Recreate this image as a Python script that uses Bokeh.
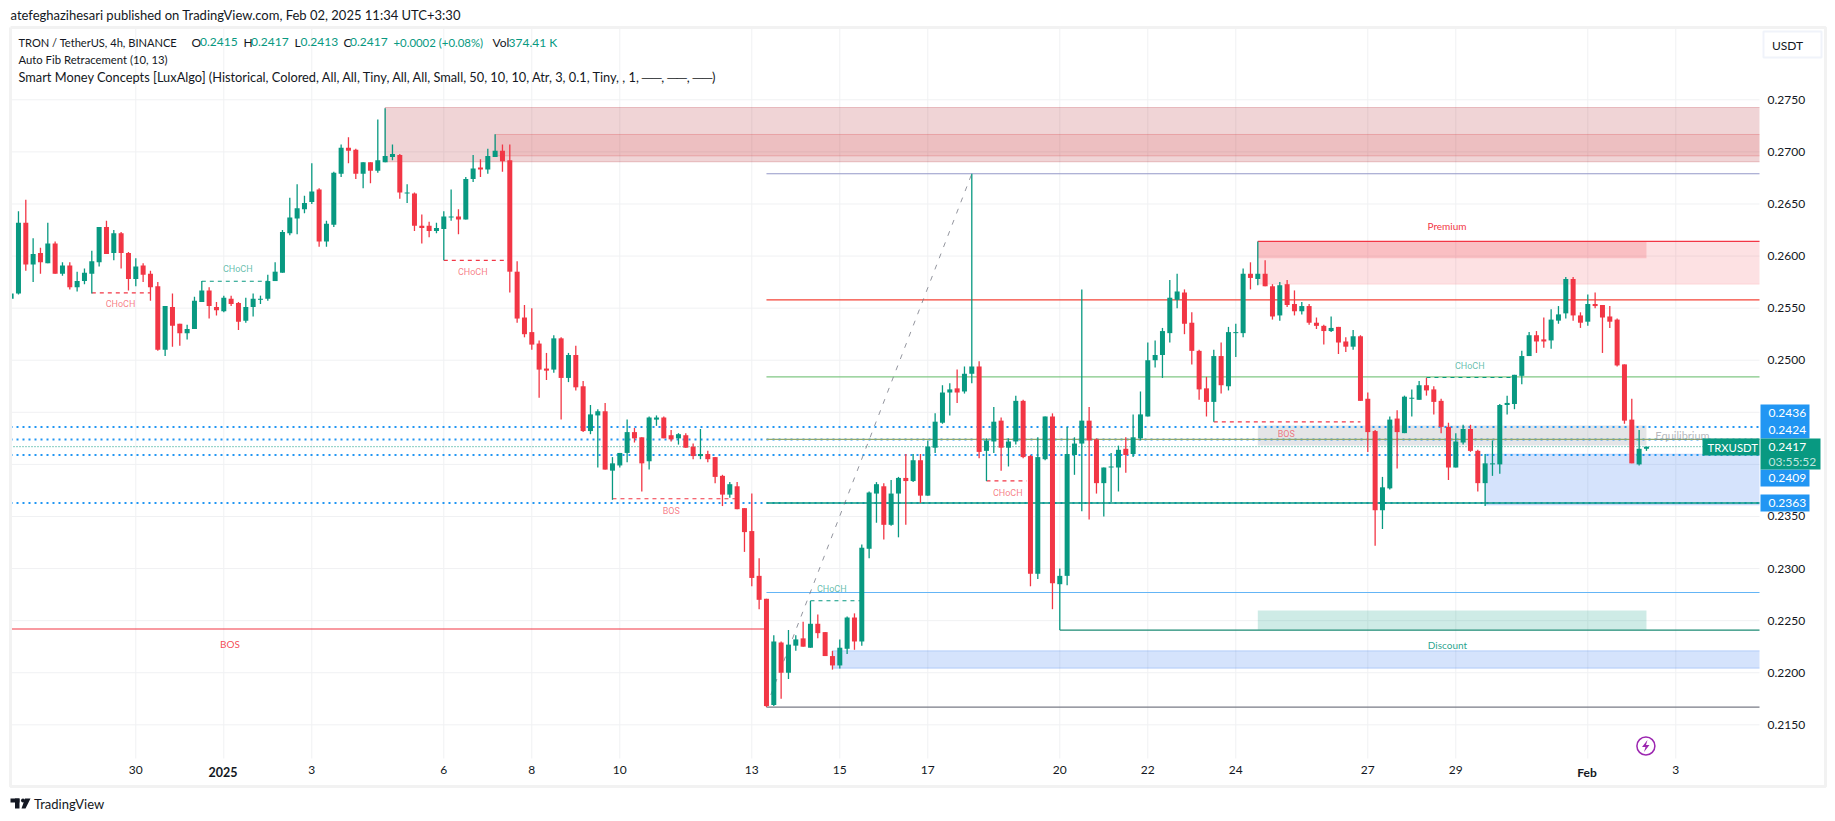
from bokeh.plotting import figure
from bokeh.models import Range1d, FixedTicker, ColumnDataSource
from bokeh.core.properties import value
from bokeh.embed import file_html
from bokeh.resources import INLINE

TICK = 0.0001
FONT = "Lato"
DARK = "#131722"
GREEN = "#089981"
RED = "#f23645"
BLUE = "#2196f3"

first_bar = -29
directions = ("GGRGRGRGRG" "GGGRGRRGRR" "RGRRGGGRR"
              "GRRGGGGGGG" "GGGRGGGRRG" "RGGGRGRRRG" "GGRGGRGGRR"
              "RRRRRGRGRR" "GGRGGGRRGG" "RRGRRGRRRG" "RRRRRGRGGR"
              "GRRRGGRGGG" "RGGRGRGGGG" "RGGRGGRGGR" "RGGRGGGGRR"
              "GGGRGGGGGG" "GRRRRGRGGG" "RGRRGRRGRR" "RGRRGRRRGG"
              "RGGGRRRRGG" "RRGGGGGGGR" "RGGGRRGRRR" "RRRGG")
highs = [2601,2643,2654,2617,2608,2632,2614,2594,2594,2585,
 2588,2605,2628,2634,2625,2623,2604,2598,2593,2586,
 2575,2552,2564,2535,2534,2561,2576,2570,2556,
 2562,2562,2556,2560,2564,2562,2582,2594,2625,2656,
 2669,2658,2689,2665,2634,2681,2707,2714,2703,2690,
 2690,2731,2742,2707,2698,2669,2661,2640,2633,2632,
 2643,2664,2645,2676,2697,2693,2703,2717,2707,2707,
 2595,2553,2550,2519,2507,2524,2522,2507,2514,2480,
 2457,2453,2459,2407,2411,2443,2435,2426,2446,2447,
 2446,2433,2430,2430,2420,2434,2413,2407,2390,2383,
 2383,2358,2372,2310,2271,2236,2230,2241,2236,2249,
 2269,2256,2239,2221,2232,2254,2257,2323,2374,2383,
 2382,2385,2388,2410,2410,2410,2423,2449,2476,2478,
 2491,2494,2679,2499,2425,2455,2445,2425,2466,2462,
 2409,2426,2446,2449,2300,2436,2426,2568,2455,2425,
 2397,2411,2418,2426,2448,2470,2517,2519,2531,2577,
 2583,2568,2546,2510,2484,2510,2517,2532,2535,2588,
 2594,2614,2596,2573,2575,2577,2567,2556,2554,2541,
 2534,2542,2532,2522,2529,2524,2469,2433,2388,2446,
 2452,2466,2472,2480,2483,2475,2463,2440,2430,2438,
 2438,2414,2410,2423,2458,2466,2486,2509,2527,2528,
 2541,2549,2552,2580,2580,2546,2563,2565,2553,2552,
 2540,2496,2463,2433,2417]
body_tops = [2564,2632,2632,2602,2603,2612,2612,2591,2591,2576,
 2584,2595,2628,2628,2622,2622,2603,2590,2591,2583,
 2571,2552,2551,2535,2530,2557,2567,2567,2551,
 2560,2559,2555,2551,2559,2559,2576,2585,2623,2637,
 2646,2651,2662,2664,2631,2680,2704,2704,2702,2690,
 2690,2692,2696,2698,2697,2661,2660,2629,2629,2627,
 2638,2638,2638,2674,2684,2685,2696,2701,2701,2692,
 2585,2541,2527,2516,2492,2521,2521,2505,2505,2475,
 2448,2451,2451,2401,2411,2431,2431,2426,2445,2445,
 2445,2428,2429,2428,2417,2410,2410,2407,2389,2381,
 2379,2358,2336,2293,2271,2230,2229,2227,2232,2233,
 2247,2247,2239,2216,2224,2253,2253,2320,2373,2381,
 2379,2372,2387,2387,2404,2404,2417,2441,2469,2472,
 2473,2487,2494,2494,2423,2441,2442,2422,2461,2461,
 2408,2407,2446,2446,2293,2410,2420,2442,2442,2424,
 2397,2398,2414,2415,2426,2448,2500,2505,2528,2560,
 2566,2565,2536,2509,2473,2504,2504,2527,2527,2583,
 2583,2583,2583,2571,2572,2573,2554,2552,2552,2536,
 2533,2531,2532,2518,2523,2523,2463,2432,2378,2443,
 2444,2465,2464,2476,2476,2472,2461,2436,2422,2434,
 2434,2413,2401,2401,2457,2459,2486,2504,2524,2524,
 2520,2539,2544,2578,2578,2543,2554,2554,2553,2542,
 2539,2496,2443,2415,2417]
body_bottoms = [2559,2564,2592,2592,2594,2593,2583,2583,2570,2570,
 2576,2583,2594,2602,2603,2603,2578,2578,2582,2570,
 2510,2510,2533,2526,2526,2530,2556,2552,2548,
 2547,2554,2537,2538,2551,2558,2559,2576,2584,2622,
 2636,2645,2652,2614,2614,2630,2679,2701,2679,2679,
 2682,2682,2690,2695,2661,2660,2629,2627,2624,2624,
 2626,2637,2635,2635,2674,2683,2683,2695,2691,2585,
 2540,2525,2515,2491,2490,2491,2483,2483,2474,2432,
 2432,2447,2395,2394,2399,2411,2425,2401,2403,2443,
 2425,2424,2425,2416,2408,2408,2405,2388,2371,2371,
 2357,2335,2291,2270,2168,2169,2200,2200,2226,2225,
 2224,2238,2216,2207,2207,2223,2230,2230,2319,2372,
 2342,2342,2372,2384,2384,2370,2370,2416,2440,2469,
 2469,2470,2487,2412,2413,2422,2416,2416,2422,2407,
 2295,2295,2405,2286,2285,2293,2409,2420,2423,2382,
 2382,2397,2397,2409,2410,2425,2446,2500,2505,2526,
 2558,2535,2509,2472,2460,2460,2476,2475,2526,2526,
 2579,2578,2571,2542,2543,2553,2547,2547,2536,2533,
 2528,2528,2517,2513,2513,2461,2431,2356,2356,2377,
 2431,2430,2463,2462,2471,2460,2436,2397,2397,2421,
 2413,2382,2382,2400,2400,2457,2458,2485,2504,2518,
 2518,2519,2538,2545,2543,2536,2537,2552,2541,2537,
 2495,2442,2401,2400,2415]
lows = [2559,2563,2586,2575,2583,2593,2583,2581,2568,2566,
 2573,2564,2590,2602,2596,2588,2567,2571,2575,2557,
 2509,2504,2513,2514,2520,2530,2556,2540,2543,
 2546,2552,2529,2536,2542,2554,2557,2576,2584,2620,
 2621,2641,2650,2609,2609,2628,2676,2689,2674,2665,
 2670,2680,2690,2692,2655,2651,2624,2612,2618,2622,
 2596,2634,2621,2635,2671,2676,2679,2695,2681,2565,
 2536,2522,2510,2464,2481,2488,2443,2479,2471,2431,
 2429,2397,2395,2366,2397,2402,2421,2374,2395,2437,
 2425,2422,2419,2416,2405,2405,2402,2382,2360,2368,
 2357,2316,2283,2261,2167,2168,2175,2194,2221,2225,
 2224,2233,2216,2203,2204,2218,2222,2226,2310,2344,
 2328,2341,2330,2342,2383,2363,2370,2411,2439,2447,
 2459,2468,2478,2406,2384,2411,2394,2398,2419,2406,
 2283,2290,2404,2261,2241,2284,2390,2355,2347,2372,
 2350,2364,2374,2392,2407,2423,2446,2493,2483,2517,
 2550,2525,2496,2462,2446,2441,2468,2471,2503,2522,
 2568,2572,2571,2539,2538,2551,2543,2544,2534,2530,
 2515,2527,2506,2508,2510,2461,2412,2322,2338,2376,
 2396,2430,2446,2462,2466,2448,2430,2385,2397,2419,
 2412,2374,2360,2389,2391,2448,2453,2477,2504,2507,
 2512,2511,2535,2540,2538,2531,2533,2550,2507,2531,
 2494,2439,2401,2399,2413]
assert len(highs) == len(body_tops) == len(body_bottoms) == len(lows) == len(directions)

date_ticks = [-12, 0, 12, 30, 42, 54, 72, 84, 96, 114, 126, 138, 156, 168, 186, 198]
date_labels = ["30", "", "3", "6", "8", "10", "13", "15", "17", "20", "22", "24", "27", "29", "", "3"]
price_ticks = [0.2150, 0.2200, 0.2250, 0.2300, 0.2350, 0.2400, 0.2450, 0.2500, 0.2550, 0.2600, 0.2650, 0.2700, 0.2750]
hidden_price_ticks = [0.2400, 0.2450]

# zones: first bar, last bar (None = to the price scale), top, bottom, colour, fill alpha, line alpha
zones = [
    (22, None, 0.27426, 0.26905, "#b22833", 0.20, 0.25),
    (37, None, 0.27167, 0.26962, "#d53436", 0.13, 0.25),
    (141, None, 0.2614, 0.2573, RED, 0.15, 0.10),
    (141, 194, 0.2614, 0.25979, RED, 0.20, 0.0),
    (83, None, 0.2221, 0.22044, "#2d73f0", 0.20, 0.25),
    (172, None, 0.24099, 0.2361, "#2d73f0", 0.20, 0.15),
    (141, 194, 0.24374, 0.24182, "#787b86", 0.20, 0.0),
    (141, 194, 0.22597, 0.22412, GREEN, 0.20, 0.0),
]
fib_levels = [0.2679, 0.2558, 0.2484, 0.2424, 0.2363, 0.2277, 0.2167]
fib_colors = ["#9598c8", "#f44336", "#81c784", "#8fa86d", GREEN, "#64b5f6", "#787b86"]
fib_widths = [1.2, 1.2, 1.2, 1.2, 1.5, 1.2, 1.2]
fib_start = 74
fib_trend_bars = [74, 102]
fib_trend_prices = [0.2168, 0.2679]
bos_level, disc_level, prem_level = 0.2242, 0.2241, 0.2614

# structure breaks: x0, x1, level, colour, label
breaks = [
    (-18, -10, 0.25647, RED, "CHoCH"),
    (-3, 6, 0.25758, GREEN, "CHoCH"),
    (30, 39, 0.25958, RED, "CHoCH"),
    (53, 70, 0.2367, RED, "BOS"),
    (104, 109.5, 0.23842, RED, "CHoCH"),
    (80, 87, 0.22691, GREEN, "CHoCH"),
    (135, 155, 0.24409, RED, "BOS"),
    (164, 176, 0.24834, GREEN, "CHoCH"),
]
break_label_px = [(120, 303.3), (237.3, 268), (472.3, 271.3), (670.7, 510.3), (1007.3, 492.7), (831.3, 588.3),
                  (1285.7, 433.3), (1469.3, 365.3)]
dotted_levels = [0.2436, 0.2424, 0.2409, 0.2363]
current_price = 0.2417


def px(X):
    return (X - 223.3) / 7.3333


def py(Y):
    return 0.275 - (Y - 99.3) / 10417


W, H = 1827, 813
plot_l, plot_r = px(10), px(1759)
plot_t, plot_b = py(27), py(758)

p = figure(width=W, height=H, frame_width=W, frame_height=H, min_border=0,
           x_range=Range1d(px(0), px(W)), y_range=Range1d(py(H), py(0)),
           output_backend="svg", toolbar_location=None, y_axis_location="right", tools="")
p.outline_line_color = None
p.xgrid.visible = False
p.ygrid.visible = False
p.xaxis.ticker = FixedTicker(ticks=date_ticks)
p.xaxis.major_label_overrides = dict(zip(date_ticks, date_labels))
p.yaxis.ticker = FixedTicker(ticks=price_ticks)
p.yaxis.major_label_overrides = {t: ("" if t in hidden_price_ticks else f"{t:.4f}") for t in price_ticks}
for ax in (p.xaxis[0], p.yaxis[0]):
    ax.axis_line_color = None
    ax.major_tick_line_color = None
    ax.minor_tick_line_color = None
    ax.major_label_text_font = FONT
    ax.major_label_text_font_size = "12px"
    ax.major_label_text_color = DARK
p.yaxis.major_label_standoff = -(W - 1761)
p.xaxis.major_label_standoff = -(H - 759)

# grid
p.segment(date_ticks, [plot_t] * len(date_ticks), date_ticks, [plot_b] * len(date_ticks), line_color="#f0f1f3", line_width=1)
p.segment([plot_l] * len(price_ticks), price_ticks, [plot_r] * len(price_ticks), price_ticks, line_color="#f0f1f3", line_width=1)

# zones
for first, last, top, bottom, color, fa, la in zones:
    right = last if last is not None else plot_r
    p.quad(left=[first], right=[right], top=[top], bottom=[bottom], fill_color=color, fill_alpha=fa, line_color=None)
    if la:
        p.line([right, first, first, right], [top, top, bottom, bottom], line_color=color, line_alpha=la, line_width=1)

# dotted levels
for lv in dotted_levels:
    p.segment([plot_l], [lv], [plot_r], [lv], line_color=BLUE, line_width=2, line_dash="2 4")
p.segment([plot_l], [current_price], [plot_r], [current_price], line_color=GREEN, line_width=1, line_dash="1 2")

# fib
p.segment([fib_start] * len(fib_levels), fib_levels, [plot_r] * len(fib_levels), fib_levels,
          line_color=fib_colors, line_width=fib_widths)
p.line(fib_trend_bars, fib_trend_prices, line_color="#787b86", line_width=1, line_dash="5 7", line_alpha=0.8)
for x0, x1, lv, color in ((plot_l, 74, bos_level, RED), (114, plot_r, disc_level, "#1b8a73"), (141, plot_r, prem_level, RED)):
    p.segment([x0], [lv], [x1], [lv], line_color=color, line_width=1.2)

# structure
for (x0, x1, lv, color, label_text), (lx, ly) in zip(breaks, break_label_px):
    p.segment([x0], [lv], [x1], [lv], line_color=color, line_width=1.2, line_dash="4 4")
    p.text([px(lx)], [py(ly)], text=[label_text], text_font=value("Roboto"), text_font_size="9px", text_color=color,
           text_alpha=0.65, text_align="center", text_baseline="middle")

# candles
xs = [first_bar + i for i in range(len(highs))]
cols = [GREEN if d == "G" else RED for d in directions]
src = ColumnDataSource(dict(x=xs, h=[v * TICK for v in highs], l=[v * TICK for v in lows],
                            t=[v * TICK for v in body_tops], b=[v * TICK for v in body_bottoms], c=cols))
p.segment("x", "h", "x", "l", source=src, line_color="c", line_width=1.3)
p.vbar("x", width=5 / 7.3333, top="t", bottom="b", source=src, fill_color="c", line_color=None)


def label(x, y, text, color=DARK, size="12px", font=FONT, style="normal", align="left", alpha=1.0):
    p.text([px(x)], [py(y)], text=[text], text_color=color, text_font_size=size, text_font=value(font),
           text_font_style=style, text_align=align, text_baseline="middle", text_alpha=alpha)


def box(x0, x1, y0, y1, fill, line=None):
    p.quad(left=[px(x0)], right=[px(x1)], top=[py(y0)], bottom=[py(y1)], fill_color=fill, line_color=line)


# outer frame
box(0, 9, 27, 786, "white")
p.line([px(v) for v in (10, 1825, 1825, 10, 10)], [py(v) for v in (27, 27, 786, 786, 27)], line_color="#f2f2f2", line_width=3)

# named levels
label(229.4, 643.7, "BOS", RED, "10px", align="center", alpha=0.9)
label(1446.5, 225.3, "Premium", RED, "10px", align="center")
label(1447, 644.7, "Discount", GREEN, "10px", align="center", alpha=0.9)
label(1682, 434.7, "Equilibrium", "#787b86", "11px", align="center", alpha=0.55)

# bolt icon
p.scatter([px(1645.4)], [py(745.5)], size=18, fill_color="white", line_color="#9c27b0", line_width=1.5)
p.patch([px(v) for v in (1647, 1641.5, 1645, 1643.5, 1649, 1645.5)], [py(v) for v in (739.5, 746.5, 746.5, 751.5, 744.5, 744.5)],
        fill_color="#9c27b0", line_color=None)

label(222.5, 771.7, "2025", style="bold", align="center", size="12.5px")
label(1586.5, 771.7, "Feb", style="bold", align="center")
label(10, 14, "atefeghazihesari published on TradingView.com, Feb 02, 2025 11:34 UTC+3:30", size="13px")
label(18, 41.7, "TRON / TetherUS, 4h, BINANCE", size="11.1px")
for x, t, c, fs in [(191, "O", DARK, "12px"), (199.5, "0.2415", GREEN, "12px"), (243, "H", DARK, "12px"), (250.5, "0.2417", GREEN, "12px"),
                    (294, "L", DARK, "12px"), (300, "0.2413", GREEN, "12px"), (343, "C", DARK, "12px"), (349.5, "0.2417", GREEN, "12px"),
                    (393, "+0.0002 (+0.08%)", GREEN, "11.4px"), (492, "Vol", DARK, "12px"), (508, "374.41 K", GREEN, "12px")]:
    label(x, 41.7, t, color=c, size=fs)
label(18, 59, "Auto Fib Retracement (10, 13)", size="11.3px")
label(18, 76, "Smart Money Concepts [LuxAlgo] (Historical, Colored, All, All, Tiny, All, All, Small, 50, 10, 10, Atr, 3, 0.1, Tiny, , 1, ──, ──, ──)", size="12.8px")

# USDT button
p.quad(left=[px(1763)], right=[px(1821)], top=[py(31)], bottom=[py(57)], fill_color="white", line_color="#f0f3fa", line_width=2)
label(1771.5, 44.5, "USDT")

# price tags
box(1760, 1809, 404, 438, BLUE)
box(1760, 1809, 469, 486, BLUE)
box(1760, 1809, 494, 511, BLUE)
box(1702, 1759, 438, 455, GREEN)
box(1760, 1820, 438, 469, GREEN)
label(1768, 412.7, "0.2436", "white")
label(1768, 429.7, "0.2424", "white")
label(1768, 477.3, "0.2409", "white")
label(1768, 502.3, "0.2363", "white")
label(1707, 446.7, "TRXUSDT", "white", size="11.3px")
label(1768, 446.7, "0.2417", "white")
label(1768, 460.7, "03:55:52", "white", alpha=0.75)

# TradingView logo
box(10, 19, 798, 802, DARK)
box(14.5, 19, 798, 808, DARK)
p.patch([px(v) for v in (24.5, 30, 25, 21)], [py(v) for v in (798, 798, 808, 808)], fill_color=DARK, line_color=None)
p.scatter([px(22.5)], [py(800)], size=4, fill_color=DARK, line_color=None)
label(33.5, 803.5, "TradingView", size="13px")

open("out.html", "w").write(file_html(p, INLINE))
